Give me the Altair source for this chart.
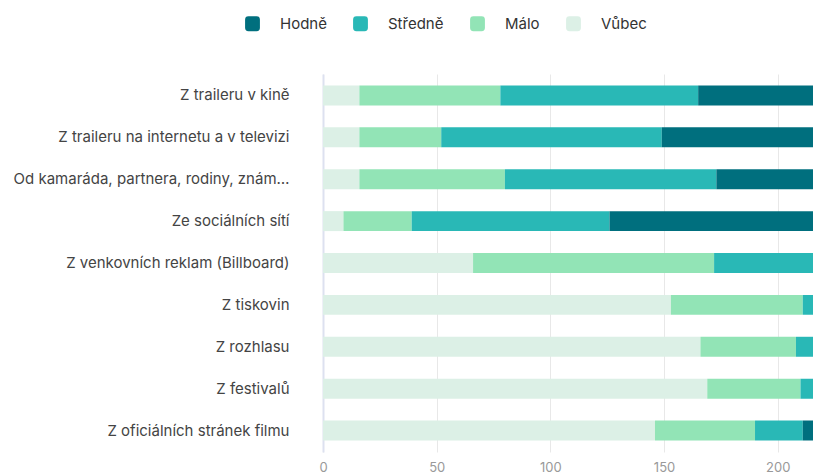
import altair as alt
import pandas as pd

categories = [
    "Z traileru v kině",
    "Z traileru na internetu a v televizi",
    "Od kamaráda, partnera, rodiny, známých",
    "Ze sociálních sítí",
    "Z venkovních reklam (Billboard)",
    "Z tiskovin",
    "Z rozhlasu",
    "Z festivalů",
    "Z oficiálních stránek filmu",
]
series = ["Hodně", "Středně", "Málo", "Vůbec"]
colors = ["#006f7e", "#29b8b6", "#92e4b6", "#dcf0e6"]

vubec = [16, 16, 16, 9, 66, 153, 166, 169, 146]
malo = [62, 36, 64, 30, 106, 58, 42, 41, 44]
stredne = [87, 97, 93, 87, 44, 15, 9, 14, 21]
hodne = [67, 83, 59, 106, 16, 6, 15, 8, 21]

tick_values = [0, 50, 100, 150, 200]

rows = []
for i, c in enumerate(categories):
    for s, vals, o in [("Vůbec", vubec, 0), ("Málo", malo, 1), ("Středně", stredne, 2), ("Hodně", hodne, 3)]:
        rows.append({"kategorie": c, "odpoved": s, "pocet": vals[i], "poradi": o})
df = pd.DataFrame(rows)

rounded = "M -0.55 -1 L 0.55 -1 Q 1 -1 1 -0.55 L 1 0.55 Q 1 1 0.55 1 L -0.55 1 Q -1 1 -1 0.55 L -1 -0.55 Q -1 -1 -0.55 -1 Z"

chart = alt.Chart(df).mark_bar(clip=True).encode(
    y=alt.Y(
        "kategorie:N",
        sort=categories,
        title=None,
        scale=alt.Scale(paddingInner=0.523, paddingOuter=0.274),
        axis=alt.Axis(
            labelFont="Inter", labelFontSize=15, labelColor="#444444",
            labelPadding=34, ticks=False, domainColor="#dde1f0", domainWidth=2,
            labelLimit=277, grid=False,
        ),
    ),
    x=alt.X(
        "pocet:Q",
        stack="zero",
        title=None,
        scale=alt.Scale(domain=[0, 215.5], nice=False),
        axis=alt.Axis(
            values=tick_values, labelFont="Inter", labelFontSize=13, labelColor="#999999",
            ticks=False, domain=False, grid=True, gridColor="#e8e8e8", labelPadding=9,
            labelFlush=False,
        ),
    ),
    color=alt.Color(
        "odpoved:N",
        scale=alt.Scale(domain=series, range=colors),
        legend=alt.Legend(
            title=None, orient="none", direction="horizontal", legendX=-78, legendY=-58,
            symbolType=rounded, symbolSize=220, symbolStrokeWidth=0, symbolOpacity=1,
            labelFont="Inter", labelFontSize=15, labelColor="#333333", labelOffset=20,
            columnPadding=26, padding=0,
        ),
    ),
    order=alt.Order("poradi:Q", sort="ascending"),
).properties(
    width=490,
    height=378,
    autosize=alt.AutoSizeParams(type="none"),
    padding={"left": 315, "top": 66, "right": 0, "bottom": 24},
).configure_view(stroke=None)

chart.save("out.html", embed_options={"renderer": "svg", "actions": False})
